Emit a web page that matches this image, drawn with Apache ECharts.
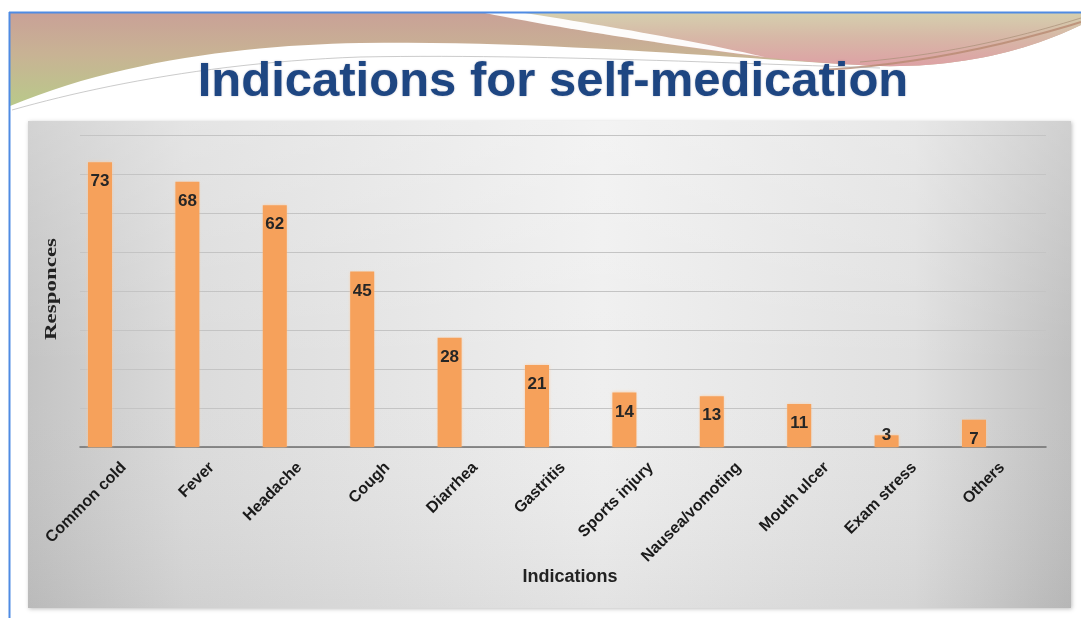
<!DOCTYPE html>
<html>
<head>
<meta charset="utf-8">
<style>
html,body{margin:0;padding:0;background:#ffffff;}
#chart{width:1081px;height:618px;}
</style>
<script src="https://cdn.jsdelivr.net/npm/echarts@6/dist/echarts.min.js"></script>
</head>
<body>
<div id="chart"></div>
<script>
const categories = ['Common cold','Fever','Headache','Cough','Diarrhea','Gastritis','Sports injury','Nausea/vomoting','Mouth ulcer','Exam stress','Others'];
const responses = [73, 68, 62, 45, 28, 21, 14, 13, 11, 3, 7];
const yMin = 0, yMax = 80, yStep = 10;
const titleText = 'Indications for self-medication';
const xTitle = 'Indications';
const yTitle = 'Responces';

// decorative curve helper: start point followed by cubic segments [c1x,c1y,c2x,c2y,x,y]
function curve(start, segs) {
  const pts = [start.slice()];
  let p = start;
  segs.forEach(s => {
    for (let i = 1; i <= 24; i++) {
      const t = i / 24, u = 1 - t;
      pts.push([
        u*u*u*p[0] + 3*u*u*t*s[0] + 3*u*t*t*s[2] + t*t*t*s[4],
        u*u*u*p[1] + 3*u*u*t*s[1] + 3*u*t*t*s[3] + t*t*t*s[5]
      ]);
    }
    p = [s[4], s[5]];
  });
  return pts;
}

const bandBottom = curve([1081,25], [[1030,50,960,68,880,66],[750,60,550,40,360,43],[250,45,120,60,10,106]]);
const band = [[10,13],[1081,13]].concat(bandBottom);
const rightBand = [[495,13],[1081,13]].concat(curve([1081,25], [[1030,50,960,68,880,66],[830,64,790,60,760,57]])).concat(curve([760,57], [[660,44,570,30,495,13]]));
const streak = [[485,13],[525,13]].concat(curve([525,13], [[600,25,680,38,765,57]])).concat(curve([765,57], [[660,44,560,28,485,13]]));
const brown1 = curve([820,70], [[900,66,990,50,1081,22]]);
const brown2 = curve([860,62], [[940,55,1010,40,1081,18]]);
const grayLine = curve([12,110], [[100,85,220,62,360,57],[520,54,700,62,880,68]]);

const chart = echarts.init(document.getElementById('chart'), null, {renderer:'canvas'});

const barData = responses.map(v => v < 5 ? {value: v, label: {position: 'top', distance: -9}} : v);

const option = {
  backgroundColor: '#ffffff',
  animation: false,
  graphic: [
    {type:'polygon', z:-20, shape:{points:band},
      style:{fill:new echarts.graphic.LinearGradient(0,0,0,1,[{offset:0,color:'#c9a197'},{offset:0.45,color:'#c8b394'},{offset:1,color:'#b9c98a'}])}},
    {type:'polygon', z:-19, shape:{points:rightBand},
      style:{fill:new echarts.graphic.LinearGradient(0,0,0,1,[{offset:0,color:'#d6d3b0'},{offset:0.45,color:'#d8b9a8'},{offset:1,color:'#df9fa6'}]), opacity:0.92}},
    {type:'polygon', z:-18, shape:{points:streak}, style:{fill:'#ffffff', opacity:0.95}},
    {type:'polyline', z:-18, shape:{points:brown1}, style:{fill:null, stroke:'#b88a72', lineWidth:2, opacity:0.8}},
    {type:'polyline', z:-18, shape:{points:brown2}, style:{fill:null, stroke:'#a89078', lineWidth:1, opacity:0.7}},
    {type:'polyline', z:-18, shape:{points:grayLine}, style:{fill:null, stroke:'#a8a8a8', lineWidth:1, opacity:0.6}},
    {type:'line', z:-5, shape:{x1:9, y1:12.5, x2:1081, y2:12.5}, style:{stroke:'#4f8be3', lineWidth:2}},
    {type:'line', z:-5, shape:{x1:9.5, y1:12, x2:9.5, y2:618}, style:{stroke:'#4f8be3', lineWidth:2}},
    {type:'rect', z:-16, shape:{x:28, y:121, width:1043, height:487},
      style:{fill:new echarts.graphic.LinearGradient(0,0,1,0,[{offset:0,color:'#c4c4c4'},{offset:0.15,color:'#dbdbdb'},{offset:0.55,color:'#efefef'},{offset:0.85,color:'#e0e0e0'},{offset:1,color:'#c0c0c0'}]),
        shadowBlur:4, shadowColor:'rgba(0,0,0,0.25)', shadowOffsetX:1, shadowOffsetY:1}},
    {type:'rect', z:-15, shape:{x:28, y:121, width:1043, height:487},
      style:{fill:new echarts.graphic.LinearGradient(0,0,0,1,[{offset:0,color:'rgba(255,255,255,0.25)'},{offset:0.5,color:'rgba(255,255,255,0)'},{offset:1,color:'rgba(0,0,0,0.05)'}])}},
    {type:'text', z:10, x:553, y:107, style:{text:titleText, font:'bold 49px "Liberation Sans", Arial, sans-serif', fill:'#1e4682', align:'center', verticalAlign:'bottom', textShadowBlur:2, textShadowColor:'rgba(0,0,40,0.25)'}},
    {type:'text', z:10, x:570, y:577, style:{text:xTitle, font:'bold 18px "Liberation Sans", Arial, sans-serif', fill:'#222222', align:'center', verticalAlign:'middle'}},
    {type:'text', z:10, x:52, y:289, rotation:Math.PI/2, scaleX:1.35, style:{text:yTitle, font:'bold 17px "Liberation Serif", "Times New Roman", serif', fill:'#222222', align:'center', verticalAlign:'middle'}}
  ],
  grid: [
    {left:80, right:35, top:135, bottom:171, containLabel:false},
    {left:56.3, right:63.3, top:135, bottom:171, containLabel:false}
  ],
  xAxis: [
    {type:'category', gridIndex:0, data:categories, boundaryGap:true,
      axisLine:{show:true, lineStyle:{color:'#6e6e6e', width:1.5}},
      axisTick:{show:false},
      axisLabel:{rotate:45, margin:18, interval:0, color:'#1a1a1a', fontSize:16, fontWeight:'bold', fontFamily:'"Liberation Sans", Arial, sans-serif'}},
    {type:'category', gridIndex:1, data:categories, boundaryGap:true,
      axisLine:{show:false}, axisTick:{show:false}, axisLabel:{show:false}}
  ],
  yAxis: [
    {type:'value', gridIndex:0, min:yMin, max:yMax, interval:yStep,
      axisLine:{show:false}, axisTick:{show:false}, axisLabel:{show:false},
      splitLine:{show:true, lineStyle:{color:'#c4c4c4', width:1}}},
    {type:'value', gridIndex:1, min:yMin, max:yMax, interval:yStep,
      axisLine:{show:false}, axisTick:{show:false}, axisLabel:{show:false}, splitLine:{show:false}}
  ],
  series: [
    {type:'bar', xAxisIndex:1, yAxisIndex:1, data:barData, barWidth:24,
      itemStyle:{color:'#f6a15b', shadowBlur:3, shadowColor:'rgba(255,200,150,0.8)'},
      label:{show:true, position:'insideTop', distance:11, color:'#262626', fontSize:17, fontWeight:'bold', fontFamily:'"Liberation Sans", Arial, sans-serif'}}
  ]
};
chart.setOption(option);
</script>
</body>
</html>
